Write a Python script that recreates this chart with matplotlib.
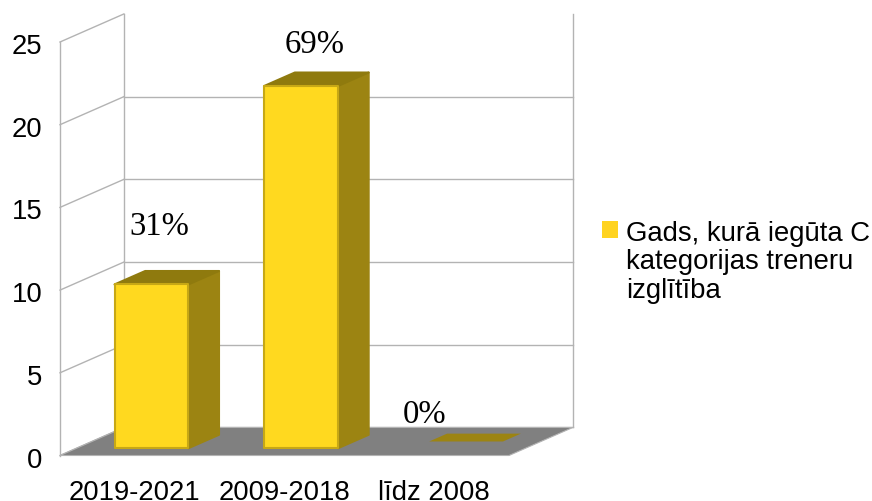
"""
3D-style column chart, drawn as flat polygons on a normal 2D axes
"""
import matplotlib
matplotlib.use("Agg")
import matplotlib.pyplot as plt
from matplotlib.patches import Polygon, Patch
from matplotlib.transforms import ScaledTranslation

plt.rcParams['font.family'] = ['Liberation Sans', 'DejaVu Sans']

categories = ['2019-2021', '2009-2018', 'līdz 2008']
values = [9.9, 21.9, 0]
percent_labels = ['31%', '69%', '0%']
y_ticks = [0, 5, 10, 15, 20, 25]
legend_label = 'Gads, kurā iegūta C\nkategorijas treneru\nizglītība'

W, H = 872, 501

# depth of the box, in data units (64 px right, 28 px up)
DEPTH_X = 64 / 150
DEPTH_Y = 28 / 16.52
BAR_WIDTH = 74 / 150

GRID = '#b3b3b3'
FLOOR = '#808080'
FRONT = '#ffd91f'
EDGE = '#c7a815'
SIDE = '#9c8412'
TOP = '#8f7a0e'


def depth(x, y, d):
    """point moved d (0..1) into the box"""
    return (x + d * DEPTH_X, y + d * DEPTH_Y)


fig = plt.figure(figsize=(W / 100, H / 100), dpi=100)
ax = fig.add_axes([60 / W, 1 - 455.5 / H, 449 / W, 413.5 / H])
ax.set_xlim(0, len(categories))
ax.set_ylim(0, y_ticks[-1])
ax.patch.set_visible(False)
for s in ax.spines.values():
    s.set_visible(False)

# walls and grid
x_end = len(categories)
for t in y_ticks:
    p0, p1 = depth(0, t, 0), depth(0, t, 1)
    ax.plot([p0[0], p1[0]], [p0[1], p1[1]], color=GRID, lw=1, clip_on=False, zorder=1)
    if t < y_ticks[-1]:
        p2 = depth(x_end, t, 1)
        ax.plot([p1[0], p2[0]], [p1[1], p2[1]], color=GRID, lw=1, clip_on=False, zorder=1)
for x in [0, x_end]:
    d = 1 if x else 0
    ax.plot([depth(x, 0, d)[0]] * 2, [depth(x, 0, d)[1], depth(x, y_ticks[-1], d)[1]],
            color=GRID, lw=1, clip_on=False, zorder=1)
ax.plot([depth(0, 0, 1)[0]] * 2, [depth(0, 0, 1)[1], depth(0, y_ticks[-1], 1)[1]],
        color=GRID, lw=1, clip_on=False, zorder=1)

# floor
floor = [depth(0, 0, 0), depth(x_end, 0, 0), depth(x_end, 0, 1), depth(0, 0, 1)]
ax.add_patch(Polygon(floor, closed=True, fc=FLOOR, ec=GRID, lw=0.8, clip_on=False, zorder=2))

# bars
d0, d1 = 0.26, 0.74
for i, v in enumerate(values):
    xl = i + 0.5 - BAR_WIDTH / 2
    xr = i + 0.5 + BAR_WIDTH / 2
    if v == 0:
        # empty bar is only a thin flat plate on the floor
        plate = [depth(xl, 0, 0.5), depth(xr, 0, 0.5), depth(xr, 0, 0.78), depth(xl, 0, 0.78)]
        ax.add_patch(Polygon(plate, closed=True, fc=SIDE, ec='none', clip_on=False, zorder=3))
        continue
    side = [depth(xr, 0, d0), depth(xr, 0, d1), depth(xr, v, d1), depth(xr, v, d0)]
    top = [depth(xl, v, d0), depth(xr, v, d0), depth(xr, v, d1), depth(xl, v, d1)]
    front = [depth(xl, 0, d0), depth(xr, 0, d0), depth(xr, v, d0), depth(xl, v, d0)]
    ax.add_patch(Polygon(side, closed=True, fc=SIDE, ec=SIDE, lw=1.5, joinstyle='round', clip_on=False, zorder=3))
    ax.add_patch(Polygon(top, closed=True, fc=TOP, ec=TOP, lw=1.5, joinstyle='round', clip_on=False, zorder=3))
    ax.add_patch(Polygon(front, closed=True, fc=FRONT, ec=EDGE, lw=1.5, joinstyle='round', clip_on=False, zorder=4))

# labels over the bars, shifted by hand like in the original
label_shift = [(8, 58), (14, 41), (-26, 33)]
for i, (v, txt) in enumerate(zip(values, percent_labels)):
    dx, dy = label_shift[i]
    ax.annotate(txt, xy=depth(i + 0.5, v, d0), xytext=(dx * 0.72, dy * 0.72),
                textcoords='offset points', ha='center', va='center',
                family=['Liberation Serif', 'DejaVu Serif'], fontsize=23.6,
                color='black', annotation_clip=False, zorder=5)

# axis text
ax.set_xticks([i + 0.5 for i in range(len(categories))])
ax.set_xticklabels(categories)
ax.set_yticks(y_ticks)
ax.tick_params(axis='both', length=0, labelsize=19.8, colors='black')
ax.tick_params(axis='x', pad=18)
ax.tick_params(axis='y', pad=12.5)
# y labels sit a little under their grid lines
y_shift = ScaledTranslation(0, -1.5 / 72, fig.dpi_scale_trans)
for lab in ax.get_yticklabels():
    lab.set_transform(lab.get_transform() + y_shift)

# legend, swatch sits at the first text line
handle = Patch(fc='#ffd320', ec='none')
leg = fig.legend([handle], [legend_label], loc='upper left', bbox_to_anchor=(602 / W, 1 - 221 / H),
                 frameon=False, fontsize=19.8, handlelength=0.59, handleheight=0.59,
                 handletextpad=0.30, labelspacing=0, borderpad=0, borderaxespad=0)
leg.get_texts()[0].set_linespacing(1.12)
swatch = leg.legend_handles[0]
swatch.set_y(swatch.get_y() + 24)

fig.savefig('out.png', dpi=100)
